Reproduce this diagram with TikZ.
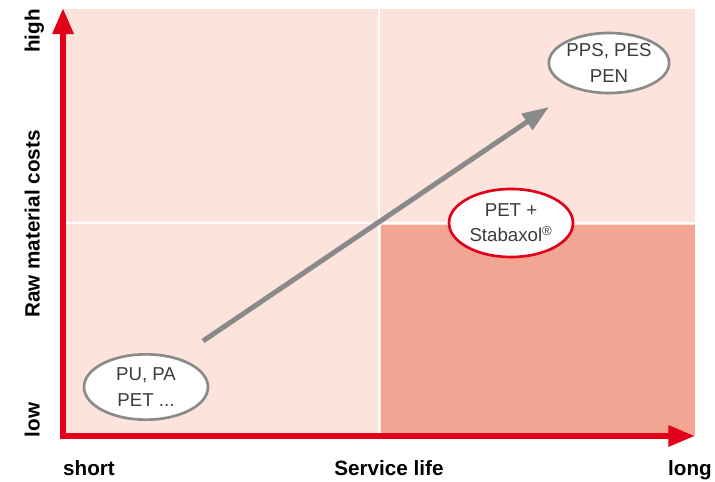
\documentclass[tikz,border=0pt]{standalone}
\usepackage{fontspec}
\setmainfont{Liberation Sans}
\usetikzlibrary{arrows.meta,shapes.geometric}
\definecolor{axisred}{HTML}{E2001A}
\definecolor{fieldpink}{HTML}{FCE3DC}
\definecolor{fielddark}{HTML}{F2A593}
\definecolor{trendgray}{HTML}{8A8A8A}
\definecolor{labeltext}{HTML}{3C3C3C}

\begin{document}
\begin{tikzpicture}[
  x=0.75pt, y=-0.75pt,
  axis/.style={draw=axisred, line width=4.5pt,
               {Triangle[length=19.5pt,width=15pt]}-{Triangle[length=20pt,width=15pt]}},
  trend/.style={draw=trendgray, line width=3.75pt, -{Triangle[length=20pt,width=14pt]}},
  material/.style={ellipse, draw=trendgray, line width=2pt, fill=white, inner sep=0pt,
                   align=center, text=labeltext, font=\fontsize{14}{19}\selectfont},
  axislabel/.style={font=\fontsize{15.5}{18}\selectfont\bfseries, inner sep=0pt,
                    text height=0.75em, text depth=0.2em}
]
\useasboundingbox (0,0) rectangle (715,482);

% quadrants
\fill[fieldpink] (63,9) rectangle (695,436);
\fill[fielddark] (381,225) rectangle (695,436);
\draw[white, line width=1.5pt] (379,9) -- (379,436) (63,223) -- (695,223);

% axes
\coordinate (cost top) at (63,8);
\coordinate (origin) at (63,436);
\coordinate (life end) at (695,436);
\draw[axis] (cost top) -- (origin) -- (life end);

\node[axislabel, rotate=90] (high) at (36,31) {high};
\node[axislabel, rotate=90] (costs) at (36,224) {Raw material costs};
\node[axislabel, rotate=90] (low) at (36,420) {low};
\node[axislabel, anchor=base] (short) at (89,475) {short};
\node[axislabel, anchor=base] (life) at (389,475) {Service life};
\node[axislabel, anchor=base] (long) at (690,475) {long};

% materials
\coordinate (trend start) at (203,341);
\coordinate (trend end) at (549,107);
\draw[trend] (trend start) -- (trend end);

\node[material, minimum width=86pt, minimum height=45pt] (premium) at (609,63) {PPS, PES\\PEN};
\node[material, draw=axisred, minimum width=93pt, minimum height=51pt] (stabaxol) at (511,223)
  {PET +\\Stabaxol\textsuperscript{®}};
\node[material, minimum width=93pt, minimum height=49pt] (standard) at (146,387) {PU, PA\\PET ...};
\end{tikzpicture}
\end{document}
